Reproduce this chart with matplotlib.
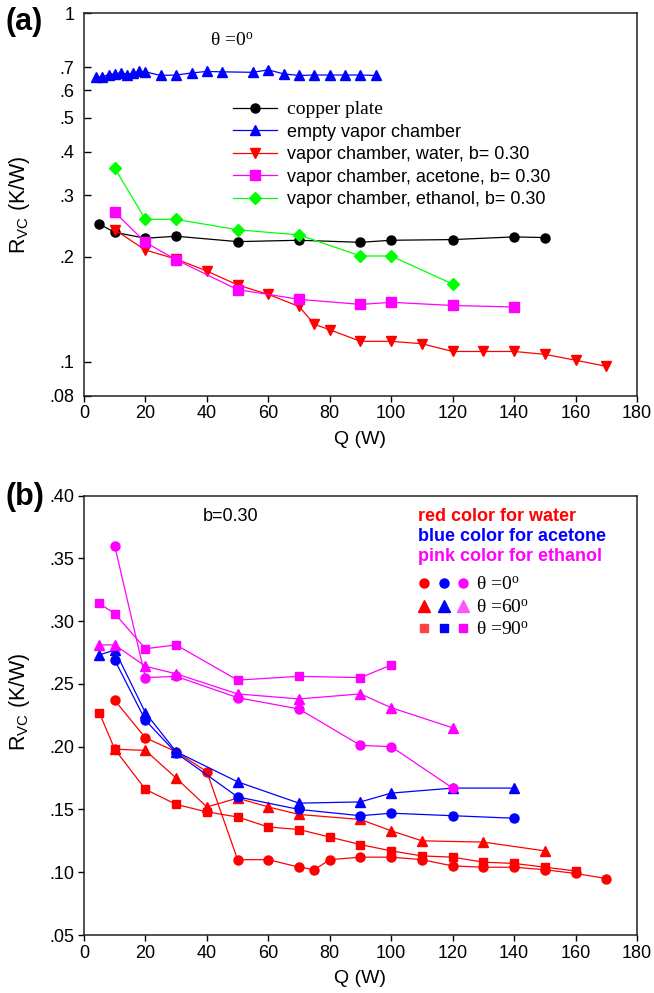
"""
Two-panel figure: vapor chamber thermal resistance R_vc against heat load Q.
(a) log axis, different working fluids vs copper plate at theta = 0 deg.
(b) linear axis, fluids at three inclination angles (b = 0.30).
"""

import matplotlib
matplotlib.use("Agg")
import matplotlib.pyplot as plt
from matplotlib.lines import Line2D
from matplotlib.legend_handler import HandlerTuple

plt.rcParams['font.family'] = ['Liberation Sans', 'DejaVu Sans']
plt.rcParams['mathtext.fontset'] = 'custom'
plt.rcParams['mathtext.rm'] = 'Liberation Serif'
plt.rcParams['mathtext.sf'] = 'Liberation Sans'
plt.rcParams['mathtext.it'] = 'Liberation Serif:italic'

SERIF = ['Liberation Serif', 'DejaVu Serif']

# ---- Data, panel (a)
q_copper = [5, 10, 20, 30, 50, 70, 90, 100, 120, 140, 150]
r_copper = [0.248, 0.235, 0.226, 0.229, 0.221, 0.223, 0.220, 0.223, 0.224,
            0.228, 0.227]

q_empty = [4, 6, 8, 10, 12, 14, 16, 18, 20, 25, 30, 35, 40, 45, 55, 60, 65,
           70, 75, 80, 85, 90, 95]
r_empty = [0.656, 0.656, 0.666, 0.669, 0.673, 0.666, 0.673, 0.680, 0.678,
           0.662, 0.664, 0.673, 0.680, 0.678, 0.676, 0.687, 0.669, 0.662,
           0.664, 0.664, 0.664, 0.664, 0.662]

q_water = [10, 20, 30, 40, 50, 60, 70, 75, 80, 90, 100, 110, 120, 130, 140,
           150, 160, 170]
r_water = [0.239, 0.209, 0.197, 0.182, 0.166, 0.156, 0.144, 0.128, 0.1235,
           0.1144, 0.1144, 0.1126, 0.107, 0.107, 0.107, 0.105, 0.101, 0.097]

q_acetone = [10, 20, 30, 50, 70, 90, 100, 120, 140]
r_acetone = [0.2685, 0.220, 0.196, 0.161, 0.151, 0.146, 0.148, 0.145, 0.1435]

q_ethanol = [10, 20, 30, 50, 70, 90, 100, 120]
r_ethanol = [0.359, 0.256, 0.256, 0.239, 0.231, 0.201, 0.201, 0.167]

# ---- Data, panel (b)
q_w0 = [10, 20, 30, 40, 50, 60, 70, 75, 80, 90, 100, 110, 120, 130, 140,
        150, 160, 170]
r_w0 = [0.237, 0.207, 0.196, 0.180, 0.110, 0.110, 0.104, 0.102, 0.110,
        0.112, 0.112, 0.110, 0.105, 0.104, 0.104, 0.102, 0.099, 0.095]
q_w60 = [10, 20, 30, 40, 50, 60, 70, 90, 100, 110, 130, 150]
r_w60 = [0.198, 0.197, 0.175, 0.152, 0.159, 0.152, 0.146, 0.142, 0.133,
         0.125, 0.124, 0.117]
q_w90 = [5, 10, 20, 30, 40, 50, 60, 70, 80, 90, 100, 110, 120, 130, 140,
         150, 160]
r_w90 = [0.227, 0.198, 0.166, 0.154, 0.148, 0.144, 0.136, 0.134, 0.128,
         0.122, 0.117, 0.113, 0.112, 0.108, 0.107, 0.104, 0.101]

q_a0 = [10, 20, 30, 50, 70, 90, 100, 120, 140]
r_a0 = [0.269, 0.221, 0.195, 0.160, 0.150, 0.145, 0.147, 0.145, 0.143]
q_a60 = [5, 10, 20, 30, 50, 70, 90, 100, 120, 140]
r_a60 = [0.273, 0.277, 0.227, 0.196, 0.172, 0.155, 0.156, 0.163, 0.167,
         0.167]

q_e0 = [10, 20, 30, 50, 70, 90, 100, 120]
r_e0 = [0.360, 0.255, 0.256, 0.239, 0.230, 0.201, 0.200, 0.167]
q_e60 = [5, 10, 20, 30, 50, 70, 90, 100, 120]
r_e60 = [0.281, 0.281, 0.264, 0.258, 0.242, 0.238, 0.242, 0.231, 0.215]
q_e90 = [5, 10, 20, 30, 50, 70, 90, 100]
r_e90 = [0.314, 0.306, 0.278, 0.281, 0.253, 0.256, 0.255, 0.265]

# ---- Tick labels
yt_a = [0.08, 0.1, 0.2, 0.3, 0.4, 0.5, 0.6, 0.7, 1.0]
yl_a = ['.08', '.1', '.2', '.3', '.4', '.5', '.6', '.7', '1']
yt_b = [0.05, 0.10, 0.15, 0.20, 0.25, 0.30, 0.35, 0.40]
yl_b = ['.05', '.10', '.15', '.20', '.25', '.30', '.35', '.40']
xt = [0, 20, 40, 60, 80, 100, 120, 140, 160, 180]

RED, BLUE, PINK, GREEN = '#ff0000', '#0000ff', '#ff00ff', '#00ff00'
FS = 13
lw = 0.9

fig = plt.figure(figsize=(6.54, 9.93), dpi=100)
ax_a = fig.add_axes([0.1284, 0.6017, 0.8456, 0.3852])
ax_b = fig.add_axes([0.1284, 0.0584, 0.8456, 0.4426])

for ax in (ax_a, ax_b):
    for s in ax.spines.values():
        s.set_linewidth(1.1)
        s.set_color('#222222')
    ax.set_xlim(0, 180)
    ax.set_xticks(xt)
    ax.tick_params(axis='x', direction='out', length=4, width=1,
                   labelsize=FS, pad=3)
    ax.set_xlabel('Q (W)', fontsize=FS + 1, labelpad=6)
    ax.set_ylabel(r'R$_{\mathsf{VC}}$ (K/W)', fontsize=15.5)

# ---- Panel (a)
ax_a.plot(q_copper, r_copper, 'o-', color='k', lw=lw, ms=6.5,
          label='copper plate')
ax_a.plot(q_empty, r_empty, '^-', color=BLUE, lw=lw, ms=7.5,
          label='empty vapor chamber')
ax_a.plot(q_water, r_water, 'v-', color=RED, lw=lw, ms=7.5,
          label='vapor chamber, water, b= 0.30')
ax_a.plot(q_acetone, r_acetone, 's-', color=PINK, lw=lw, ms=6.5,
          label='vapor chamber, acetone, b= 0.30')
ax_a.plot(q_ethanol, r_ethanol, 'D-', color=GREEN, lw=lw, ms=6,
          label='vapor chamber, ethanol, b= 0.30')

ax_a.set_yscale('log')
ax_a.set_ylim(0.08, 1.0)
ax_a.set_yticks(yt_a)
ax_a.set_yticklabels(yl_a)
ax_a.yaxis.set_minor_locator(plt.NullLocator())
ax_a.tick_params(axis='y', direction='in', length=5, width=1,
                 labelsize=FS, pad=7)
ax_a.yaxis.set_label_coords(-0.094, 0.5)

leg_a = ax_a.legend(loc='upper left', bbox_to_anchor=(0.27, 0.769),
                    frameon=False, fontsize=FS, handlelength=2.4,
                    handletextpad=0.6, labelspacing=0.3, borderpad=0,
                    borderaxespad=0)
leg_a.get_texts()[0].set_fontfamily(SERIF)
leg_a.get_texts()[0].set_fontsize(FS + 1)

ax_a.text(0.268, 0.928, r'θ =0$^{\mathrm{o}}$', transform=ax_a.transAxes,
          ha='center', va='center', fontsize=FS + 1, family=SERIF)

# ---- Panel (b)
ax_b.plot(q_w0, r_w0, 'o-', color=RED, lw=lw, ms=6.5)
ax_b.plot(q_w60, r_w60, '^-', color=RED, lw=lw, ms=7)
ax_b.plot(q_w90, r_w90, 's-', color=RED, lw=lw, ms=6)
ax_b.plot(q_a0, r_a0, 'o-', color=BLUE, lw=lw, ms=6.5)
ax_b.plot(q_a60, r_a60, '^-', color=BLUE, lw=lw, ms=7)
ax_b.plot(q_e0, r_e0, 'o-', color=PINK, lw=lw, ms=6.5)
ax_b.plot(q_e60, r_e60, '^-', color=PINK, lw=lw, ms=7)
ax_b.plot(q_e90, r_e90, 's-', color=PINK, lw=lw, ms=6)

ax_b.set_ylim(0.05, 0.40)
ax_b.set_yticks(yt_b)
ax_b.set_yticklabels(yl_b)
ax_b.tick_params(axis='y', direction='out', length=4, width=1,
                 labelsize=FS, pad=3)
ax_b.yaxis.set_label_coords(-0.094, 0.53)

ax_b.text(0.266, 0.953, 'b=0.30', transform=ax_b.transAxes,
          ha='center', va='center', fontsize=FS)
for i, (txt, col) in enumerate([('red color for water', RED),
                                ('blue color for acetone', BLUE),
                                ('pink color for ethanol', PINK)]):
    ax_b.text(0.604, 0.953 - 0.0455 * i, txt, transform=ax_b.transAxes,
              ha='left', va='center', fontsize=FS, fontweight='bold',
              color=col)

# legend keys: one row per angle, three colours per row
def key(marker, col, ms):
    return Line2D([], [], ls='none', marker=marker, color=col, ms=ms)

rows = [
    (key('o', RED, 6.5), key('o', BLUE, 6.5), key('o', PINK, 6.5)),
    (key('^', RED, 8), key('^', BLUE, 8), key('^', '#ff55ff', 8)),
    (key('s', '#ff4444', 6), key('s', BLUE, 6), key('s', PINK, 6)),
]
labels_b = [r'θ =0$^{\mathrm{o}}$', r'θ =60$^{\mathrm{o}}$',
            r'θ =90$^{\mathrm{o}}$']
leg_b = ax_b.legend(rows, labels_b,
                    handler_map={tuple: HandlerTuple(ndivide=None, pad=0.3)},
                    loc='upper left', bbox_to_anchor=(0.603, 0.816),
                    frameon=False, fontsize=FS + 1, handlelength=2.7,
                    handletextpad=0.3, labelspacing=0.25, borderpad=0,
                    borderaxespad=0)
for t in leg_b.get_texts():
    t.set_fontfamily(SERIF)

fig.text(0.008, 0.978, '(a)', fontsize=22, fontweight='bold', va='center')
fig.text(0.008, 0.499, '(b)', fontsize=22, fontweight='bold', va='center')

fig.savefig('out.png', dpi=100)
